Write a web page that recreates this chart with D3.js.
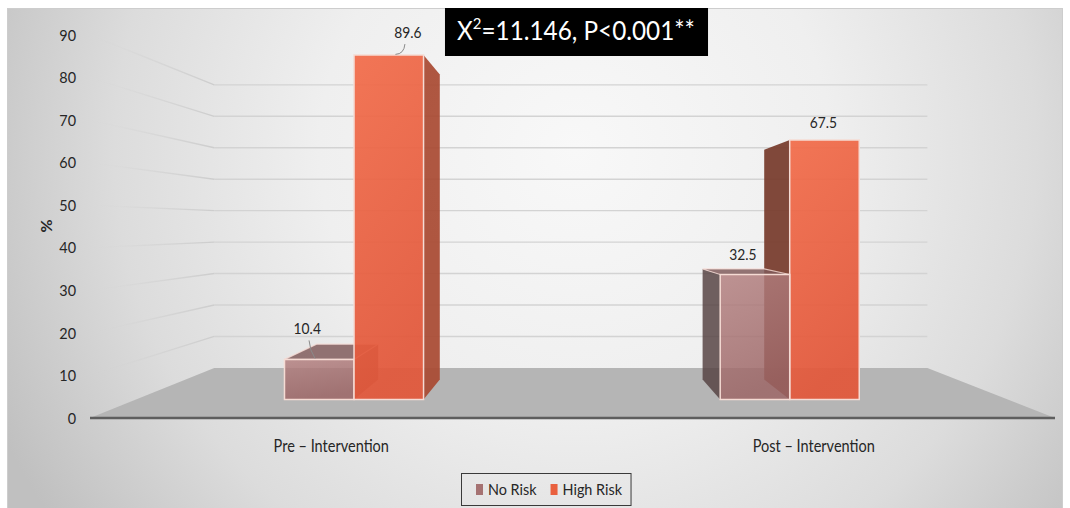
<!DOCTYPE html>
<html>
<head>
<meta charset="utf-8">
<script src="https://cdn.jsdelivr.net/npm/d3@7"></script>
<style>
  body { margin: 0; background: #fff; }
  svg { display: block; }
  text { font-family: Lato, "Open Sans", "DejaVu Sans", sans-serif; }
</style>
</head>
<body>
<svg id="chart" width="1070" height="508"></svg>
<script>
// ---- data ----
const categories = ["Pre – Intervention", "Post – Intervention"];
const seriesNames = ["No Risk", "High Risk"];
const noRisk = [10.4, 32.5];
const highRisk = [89.6, 67.5];
const yTicks = [0, 10, 20, 30, 40, 50, 60, 70, 80, 90];
const statText = { base: "X", sup: "2", rest: "=11.146, P<0.001**" };
const yTitle = "%";

// ---- look ----
const W = 1070, H = 508;
const VP = [566, 226];                       // vanishing point of the 3-D view
const depth = { wall: 0.739, front: 0.903, back: 0.80 };
const ink = "#262626";
const squeeze = 0.9;                         // narrow, Calibri-like lettering
const seriesStyle = {
  "No Risk":   { top: "#b38080", bottom: "#9c6565", opacity: 0.84, lid: "#7f5a5a",
                 left: "#564343", right: "#6c4c4c", swatch: "#a57272" },
  "High Risk": { top: "#f26c4a", bottom: "#e2573a", opacity: 0.93, lid: "#c0502f",
                 left: "#773b2c", right: "#a94a33", swatch: "#e9603e" }
};
// label nudges from the top-centre of each front face: [dx, dy, leader?]
const labelNudge = {
  "No Risk":   [[-12, -31, true], [-12, -20, false]],
  "High Risk": [[19, -23, true], [-1, -17, false]]
};

const svg = d3.select("#chart");
const defs = svg.append("defs");

// narrow a text horizontally about its anchor x
function condense(sel, k) {
  sel.each(function () {
    const t = d3.select(this);
    const ax = +(t.attr("x") || 0);
    t.attr("transform", `translate(${ax},0) scale(${k},1) translate(${-ax},0)`);
  });
}

// background
const bg = defs.append("radialGradient").attr("id", "bgGrad")
  .attr("gradientUnits", "userSpaceOnUse")
  .attr("cx", 575).attr("cy", 150).attr("r", 640);
bg.selectAll("stop")
  .data([[0, "#f8f8f8"], [0.4, "#efefef"], [0.72, "#dcdcdc"], [1, "#c0c0c0"]])
  .join("stop").attr("offset", d => d[0]).attr("stop-color", d => d[1]);

svg.append("rect").attr("width", W).attr("height", H).attr("fill", "#fff");
svg.append("rect").attr("x", 7.5).attr("y", 8.5).attr("width", 1055).attr("height", 510)
  .attr("fill", "url(#bgGrad)").attr("stroke", "#cdcdcd");

// scales on the front plane
const x = d3.scaleBand().domain(categories).range([90, 1055]);
const inner = d3.scaleBand().domain(seriesNames).range([-77, 77]);
const y = d3.scaleLinear().domain([0, 90]).range([418, 35]);

// perspective projection toward the vanishing point
const P = (xf, yf, s) => [VP[0] + (xf - VP[0]) * s, VP[1] + (yf - VP[1]) * s];
const poly = pts => "M" + pts.map(p => p[0].toFixed(2) + "," + p[1].toFixed(2)).join("L") + "Z";

const [xL, xR] = x.range();
const y0 = y(0);

// floor
svg.append("path")
  .attr("d", poly([P(xL, y0, 1), P(xR, y0, 1), P(xR, y0, depth.wall), P(xL, y0, depth.wall)]))
  .attr("fill", "#b5b5b5");

// gridlines: back wall and fading side wall
const fade = defs.append("linearGradient").attr("id", "wallFade")
  .attr("gradientUnits", "userSpaceOnUse")
  .attr("x1", xL).attr("x2", P(xL, y0, depth.wall)[0]).attr("y1", 0).attr("y2", 0);
fade.selectAll("stop")
  .data([[0, 0], [0.25, 0.12], [1, 1]])
  .join("stop").attr("offset", d => d[0]).attr("stop-color", "#cdcdcd").attr("stop-opacity", d => d[1]);

const gridVals = yTicks.filter(v => v > 0);
svg.append("g").selectAll("path").data(gridVals).join("path")
  .attr("d", v => { const a = P(xL, y(v), depth.wall), b = P(xR, y(v), depth.wall);
    return `M${a[0]},${a[1]}L${b[0]},${b[1]}`; })
  .attr("stroke", "#d3d3d3").attr("stroke-width", 1.4).attr("fill", "none");
svg.append("g").selectAll("path").data(gridVals).join("path")
  .attr("d", v => { const a = P(xL, y(v), 1), b = P(xL, y(v), depth.wall);
    return `M${a[0]},${a[1]}L${b[0]},${b[1]}`; })
  .attr("stroke", "url(#wallFade)").attr("stroke-width", 1.4).attr("fill", "none");

// front floor edge
svg.append("line").attr("x1", xL).attr("x2", xR).attr("y1", y0).attr("y2", y0)
  .attr("stroke", "#5e5e5e").attr("stroke-width", 2.5);

// front-face gradients
seriesNames.forEach((s, i) => {
  const g = defs.append("linearGradient").attr("id", "front" + i)
    .attr("x1", 0).attr("y1", 0).attr("x2", 0.25).attr("y2", 1);
  g.append("stop").attr("offset", 0).attr("stop-color", seriesStyle[s].top);
  g.append("stop").attr("offset", 1).attr("stop-color", seriesStyle[s].bottom);
});

// bars
const values = { "No Risk": noRisk, "High Risk": highRisk };
const bars = [];
categories.forEach((c, ci) => {
  seriesNames.forEach((s, si) => {
    const x0 = x(c) + x.bandwidth() / 2 + inner(s);
    const x1 = x0 + inner.bandwidth();
    bars.push({ c, ci, s, si, x0, x1, v: values[s][ci] });
  });
});
// far-from-centre boxes first so nearer faces paint over them
bars.sort((a, b) => a.ci - b.ci ||
  Math.abs((b.x0 + b.x1) / 2 - VP[0]) - Math.abs((a.x0 + a.x1) / 2 - VP[0]));

const barG = svg.append("g");
const edge = "#f5dbd4";
bars.forEach(b => {
  const st = seriesStyle[b.s];
  const yt = y(b.v);
  const g = barG.append("g");
  if (b.x1 < VP[0]) {
    g.append("path").attr("d", poly([P(b.x1, y0, depth.front), P(b.x1, y0, depth.back),
        P(b.x1, yt, depth.back), P(b.x1, yt, depth.front)]))
      .attr("fill", st.right).attr("fill-opacity", st.opacity);
  }
  if (b.x0 > VP[0]) {
    g.append("path").attr("d", poly([P(b.x0, y0, depth.front), P(b.x0, y0, depth.back),
        P(b.x0, yt, depth.back), P(b.x0, yt, depth.front)]))
      .attr("fill", st.left).attr("fill-opacity", st.opacity);
  }
  if (yt > VP[1]) {
    g.append("path").attr("d", poly([P(b.x0, yt, depth.front), P(b.x1, yt, depth.front),
        P(b.x1, yt, depth.back), P(b.x0, yt, depth.back)]))
      .attr("fill", st.lid).attr("fill-opacity", st.opacity)
      .attr("stroke", edge).attr("stroke-width", 1.2).attr("stroke-opacity", 0.8);
  }
  g.append("path").attr("d", poly([P(b.x0, y0, depth.front), P(b.x1, y0, depth.front),
      P(b.x1, yt, depth.front), P(b.x0, yt, depth.front)]))
    .attr("fill", `url(#front${b.si})`).attr("fill-opacity", st.opacity)
    .attr("stroke", edge).attr("stroke-width", 1.5);
  b.top = P((b.x0 + b.x1) / 2, yt, depth.front);
});

// value labels
const lblG = svg.append("g");
bars.forEach(b => {
  const [dx, dy, leader] = labelNudge[b.s][b.ci];
  const lx = b.top[0] + dx, ly = b.top[1] + dy;
  lblG.append("text").attr("x", lx).attr("y", ly + 5.5).attr("text-anchor", "middle")
    .attr("font-size", 15).attr("fill", ink).text(b.v.toFixed(1))
    .call(condense, 0.92);
  if (leader) {
    const ex = b.top[0] + dx * 0.35, ey = b.top[1] + dy * 0.03;
    lblG.append("path")
      .attr("d", `M${lx - dx * 0.15},${ly + 12}Q${lx - dx * 0.2},${ly + 22} ${ex},${ey}`)
      .attr("fill", "none").attr("stroke", "#8a8a8a").attr("stroke-width", 1);
  }
});

// axes
const yAxis = svg.append("g").attr("transform", `translate(${xL},0)`)
  .call(d3.axisLeft(y).tickValues(yTicks).tickSize(0).tickPadding(14));
yAxis.select(".domain").remove();
yAxis.selectAll("text").attr("font-size", 16).attr("fill", ink)
  .style("font-family", "Lato, 'Open Sans', sans-serif").call(condense, squeeze);

const xAxis = svg.append("g").attr("transform", `translate(0,${y0})`)
  .call(d3.axisBottom(x).tickSize(0).tickPadding(22));
xAxis.select(".domain").remove();
xAxis.selectAll("text").attr("font-size", 16.5).attr("fill", ink)
  .style("font-family", "Lato, 'Open Sans', sans-serif").call(condense, 0.88);

svg.append("text").attr("transform", "translate(52,226) rotate(-90)")
  .attr("text-anchor", "middle").attr("font-size", 16).attr("font-weight", "bold")
  .attr("fill", ink).text(yTitle);

// statistic banner
const statK = 0.935;
const statG = svg.append("g");
const statTxt = statG.append("text").attr("x", 576).attr("y", 40)
  .attr("text-anchor", "middle").attr("font-size", 26).attr("fill", "#fff");
statTxt.append("tspan").text(statText.base);
statTxt.append("tspan").attr("font-size", 16).attr("dy", -11).text(statText.sup);
statTxt.append("tspan").attr("dy", 11).text(statText.rest);
const sb = statTxt.node().getBBox();
statTxt.call(condense, statK);
const statW = sb.width * statK + 25;
statG.insert("rect", "text").attr("x", 576.5 - statW / 2).attr("y", 8)
  .attr("width", statW).attr("height", 48).attr("fill", "#000");

// legend
const legG = svg.append("g");
let lx = 476;
seriesNames.forEach(s => {
  const it = legG.append("g").attr("transform", `translate(${lx},0)`);
  it.append("rect").attr("x", 0).attr("y", 484).attr("width", 7).attr("height", 11)
    .attr("fill", seriesStyle[s].swatch);
  const t = it.append("text").attr("x", 12).attr("y", 495.5).attr("font-size", 16)
    .attr("fill", ink).text(s).call(condense, squeeze);
  lx += 12 + t.node().getComputedTextLength() * squeeze + 14;
});
legG.insert("rect", "g").attr("x", 461.5).attr("y", 473.5)
  .attr("width", lx - 14 + 9 - 461.5).attr("height", 32)
  .attr("fill", "none").attr("stroke", "#3a3a3a").attr("stroke-width", 1);
</script>
</body>
</html>
